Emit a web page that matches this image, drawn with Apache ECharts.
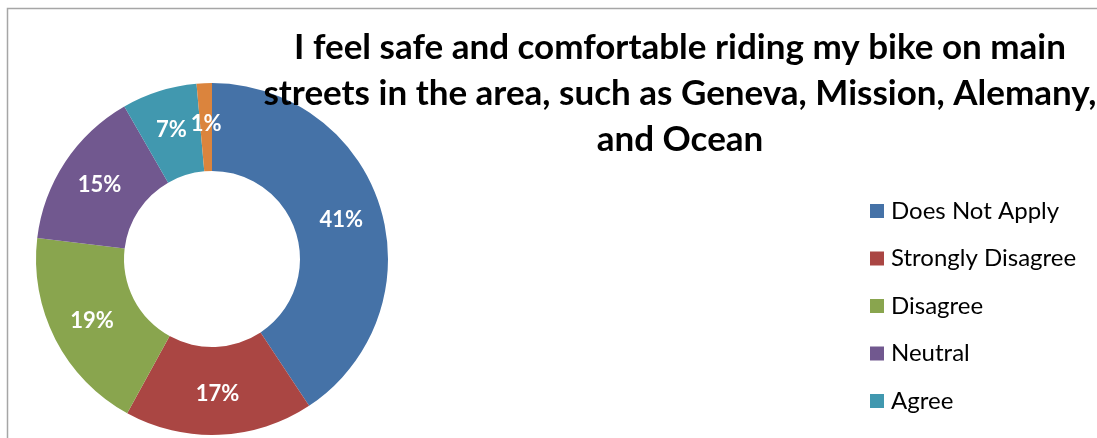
<!DOCTYPE html>
<html>
<head>
<meta charset="utf-8">
<script src="https://cdn.jsdelivr.net/npm/echarts@6/dist/echarts.min.js"></script>
<style>
html,body{margin:0;padding:0;background:#fff;}
#chart{width:1097px;height:438px;}
</style>
</head>
<body>
<div id="chart"></div>
<script>
const titleText = "I feel safe and comfortable riding my bike on main\nstreets in the area, such as Geneva, Mission, Alemany,\nand Ocean";
const categories = ["Does Not Apply", "Strongly Disagree", "Disagree", "Neutral", "Agree", "Strongly Agree"];
const values = [40.7, 17.3, 18.9, 14.8, 6.9, 1.4];
const colors = ["#4572A7", "#AA4643", "#89A54E", "#71588F", "#4198AF", "#DB843D"];

const chart = echarts.init(document.getElementById('chart'), null, {renderer: 'canvas'});
chart.setOption({
  animation: false,
  color: colors,
  graphic: [{
    type: 'rect',
    shape: {x: 7.5, y: 8.5, width: 1200, height: 600},
    style: {fill: 'none', stroke: '#a6a6a6', lineWidth: 1.5},
    z: -1
  }],
  title: {
    text: titleText,
    left: 680,
    top: 25,
    padding: 0,
    textAlign: 'center',
    textStyle: {
      fontFamily: 'Lato',
      fontWeight: 'bold',
      fontSize: 35,
      lineHeight: 46,
      color: '#000'
    }
  },
  legend: {
    orient: 'vertical',
    left: 870,
    top: 199,
    height: 1000,
    padding: 0,
    itemWidth: 14,
    itemHeight: 14,
    itemGap: 23.5,
    icon: 'rect',
    data: categories,
    textStyle: {
      fontFamily: 'Lato',
      fontSize: 24,
      lineHeight: 24,
      color: '#000',
      padding: [0, 0, 0, 2]
    }
  },
  series: [{
    type: 'pie',
    center: [212, 259],
    radius: [88, 176],
    startAngle: 90,
    clockwise: true,
    avoidLabelOverlap: false,
    itemStyle: {borderWidth: 0},
    label: {
      show: true,
      position: 'inside',
      formatter: p => Math.round(p.percent) + '%',
      color: '#fff',
      fontFamily: 'Lato',
      fontWeight: 'bold',
      fontSize: 22
    },
    labelLine: {show: false},
    emphasis: {disabled: true},
    data: categories.map((c, i) => ({name: c, value: values[i]}))
  }]
});
</script>
</body>
</html>
